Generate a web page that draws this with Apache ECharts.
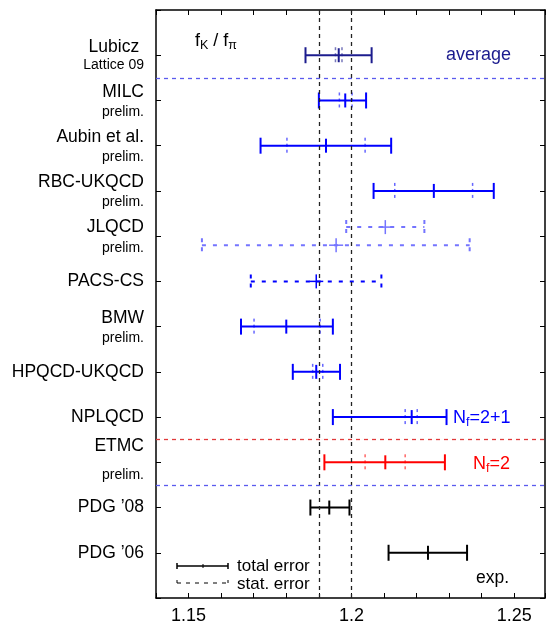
<!DOCTYPE html>
<html>
<head>
    <meta charset="utf-8">
    <title>fK / fpi</title>
    <script src="https://cdn.jsdelivr.net/npm/echarts@6.0.0/dist/echarts.min.js"></script>
    <style>
        html, body { margin: 0; padding: 0; background: #fff; }
        #main { width: 548px; height: 625px; }
    </style>
</head>
<body>
<div id="main"></div>
<script type="text/javascript">
    // row labels, top to bottom (row 1 .. 12)
    var names = ['Lubicz ', 'MILC', 'Aubin et al.', 'RBC-UKQCD', 'JLQCD', 'PACS-CS', 'BMW',
        'HPQCD-UKQCD', 'NPLQCD', 'ETMC', 'PDG \u201908', 'PDG \u201906'];
    var subNames = ['Lattice 09', 'prelim.', 'prelim.', 'prelim.', 'prelim.', '', 'prelim.',
        '', '', 'prelim.', '', ''];

    // results with total error (solid) and stat. error (dashed ticks)
    var solidRow = [1, 2, 3, 4, 7, 8, 9, 10, 11, 12];
    var solidCenter = [1.1961, 1.1981, 1.1922, 1.2253, 1.1800, 1.1892, 1.2185, 1.2104, 1.1932, 1.2235];
    var totalLow = [1.1859, 1.1900, 1.1721, 1.2068, 1.1661, 1.1820, 1.1943, 1.1917, 1.1874, 1.2114];
    var totalHigh = [1.2062, 1.2045, 1.2122, 1.2437, 1.1943, 1.1965, 1.2292, 1.2287, 1.1994, 1.2355];
    var statLow = [1.1951, 1.1963, 1.1802, 1.2133, 1.1701, 1.1881, 1.2165, 1.2042, null, null];
    var statHigh = [1.1971, 1.2002, 1.2042, 1.2372, 1.1904, 1.1912, 1.2202, 1.2165, null, null];
    var solidGroup = ['avg', 'nf3', 'nf3', 'nf3', 'nf3', 'nf3', 'nf3', 'nf2', 'exp', 'exp'];

    // results shown only with dashed bars (JLQCD x2, PACS-CS)
    var dashRow = [4.8, 5.2, 6];
    var dashCenter = [1.2104, 1.1953, 1.1892];
    var dashLow = [1.1984, 1.1541, 1.1691];
    var dashHigh = [1.2224, 1.2363, 1.2092];
    var dashGroup = ['faint', 'faint', 'nf3'];

    // PDG '08 band and group separators
    var bandEdges = [1.1874, 1.1994];
    var sepRows = [1.5, 9.5, 10.5];
    var sepGroup = ['nf3', 'nf2', 'nf3'];

    var colors = {avg: '#1c1c8e', nf3: '#0000ff', nf2: '#ff0000', exp: '#000000', faint: '#7474ff'};
    var sepColors = {nf3: '#5a5aee', nf2: '#e03a3a'};
    var FONT = 'Liberation Sans, Arial, sans-serif';

    var solidData = solidRow.map(function (r, i) {
        return [r, solidCenter[i], totalLow[i], totalHigh[i]];
    });
    var dashData = dashRow.map(function (r, i) {
        return [r, dashCenter[i], dashLow[i], dashHigh[i]];
    });

    function vline(x, y, h, style) {
        return {type: 'line', shape: {x1: x, y1: y - h, x2: x, y2: y + h}, style: style};
    }

    function renderSolid(params, api) {
        var i = params.dataIndex;
        var y = api.value(0);
        var col = colors[solidGroup[i]];
        var pc = api.coord([api.value(1), y]);
        var pl = api.coord([api.value(2), y]);
        var ph = api.coord([api.value(3), y]);
        var st = {stroke: col, lineWidth: 2, fill: null};
        var kids = [
            {type: 'line', shape: {x1: pl[0], y1: pl[1], x2: ph[0], y2: ph[1]}, style: st},
            vline(pl[0], pl[1], 8, st),
            vline(ph[0], ph[1], 8, st),
            vline(pc[0], pc[1], 7, st)
        ];
        if (statLow[i] != null) {
            var ds = {stroke: col, lineWidth: 1.5, lineDash: [3, 3], opacity: 0.6};
            var a = api.coord([statLow[i], y]);
            var b = api.coord([statHigh[i], y]);
            kids.push(vline(a[0], a[1], 8, ds));
            kids.push(vline(b[0], b[1], 8, ds));
        }
        return {type: 'group', children: kids};
    }

    function renderDash(params, api) {
        var i = params.dataIndex;
        var y = api.value(0);
        var col = colors[dashGroup[i]];
        var pc = api.coord([api.value(1), y]);
        var pl = api.coord([api.value(2), y]);
        var ph = api.coord([api.value(3), y]);
        var ds = {stroke: col, lineWidth: 2, lineDash: [4, 7]};
        var cs = {stroke: col, lineWidth: 2, lineDash: [4, 5]};
        return {
            type: 'group', children: [
                {type: 'line', shape: {x1: pl[0], y1: pl[1], x2: ph[0], y2: ph[1]}, style: ds},
                vline(pl[0], pl[1], 7, cs),
                vline(ph[0], ph[1], 7, cs),
                vline(pc[0], pc[1], 7, {stroke: col, lineWidth: 1.5}),
                {type: 'line', shape: {x1: pc[0] - 7, y1: pc[1], x2: pc[0] + 7, y2: pc[1]},
                    style: {stroke: col, lineWidth: 1.5}}
            ]
        };
    }

    var richLabel = {
        a: {fontSize: 17.5, lineHeight: 23, fontFamily: FONT, color: '#000'},
        b: {fontSize: 14, lineHeight: 17, fontFamily: FONT, color: '#000'},
        a1: {fontSize: 17.5, lineHeight: 20, fontFamily: FONT, color: '#000'},
        a2: {fontSize: 17.5, lineHeight: 26, fontFamily: FONT, color: '#000'},
        b2: {fontSize: 14, lineHeight: 32, fontFamily: FONT, color: '#000'}
    };

    // text with subscripts: parts alternate normal / subscript, laid out left to right
    var measureCtx = document.createElement('canvas').getContext('2d');
    function subText(x, y, parts, color) {
        var out = [];
        parts.forEach(function (p, k) {
            var sub = k % 2 === 1;
            var font = (sub ? '12.5px ' : '18px ') + FONT;
            out.push({
                type: 'text', x: x, y: sub ? y + 5 : y,
                style: {text: p, font: font, fill: color, verticalAlign: 'middle'}
            });
            measureCtx.font = font;
            x += measureCtx.measureText(p).width;
        });
        return out;
    }

    var myChart = echarts.init(document.getElementById('main'));

    var boxLine = {show: true, onZero: false, lineStyle: {color: '#000', width: 1.5}};
    var xBase = {
        type: 'value', min: 1.14, max: 1.25943, interval: 0.01,
        axisLine: boxLine, splitLine: {show: false},
        axisTick: {show: true, inside: true, length: 5, lineStyle: {color: '#000', width: 1}}
    };

    var graphics = [].concat(
        subText(195, 41, ['f', 'K', ' / f', '\u03c0'], '#000'),
        subText(453, 418, ['N', 'f', '=2+1'], colors.nf3),
        subText(473, 464, ['N', 'f', '=2'], colors.nf2),
        [
            {
                type: 'text', x: 446, y: 55,
                style: {text: 'average', font: '18px ' + FONT, fill: colors.avg, verticalAlign: 'middle'}
            },
            {
                type: 'text', x: 476, y: 578,
                style: {text: 'exp.', font: '17.5px ' + FONT, fill: '#000', verticalAlign: 'middle'}
            },
            // legend
            {type: 'line', shape: {x1: 177, y1: 566, x2: 228, y2: 566}, style: {stroke: '#000', lineWidth: 1.5}},
            {type: 'line', shape: {x1: 177, y1: 563, x2: 177, y2: 569}, style: {stroke: '#000', lineWidth: 1.5}},
            {type: 'line', shape: {x1: 228, y1: 563, x2: 228, y2: 569}, style: {stroke: '#000', lineWidth: 1.5}},
            {type: 'line', shape: {x1: 203, y1: 564, x2: 203, y2: 568}, style: {stroke: '#000', lineWidth: 1}},
            {type: 'line', shape: {x1: 177, y1: 583, x2: 228, y2: 583}, style: {stroke: '#000', lineWidth: 1, lineDash: [4, 5]}},
            {type: 'line', shape: {x1: 177, y1: 580, x2: 177, y2: 583}, style: {stroke: '#000', lineWidth: 1}},
            {type: 'line', shape: {x1: 228, y1: 580, x2: 228, y2: 583}, style: {stroke: '#000', lineWidth: 1}},
            {
                type: 'text', x: 237, y: 566,
                style: {text: 'total error', font: '17px ' + FONT, fill: '#000', verticalAlign: 'middle'}
            },
            {
                type: 'text', x: 237, y: 584,
                style: {text: 'stat. error', font: '17px ' + FONT, fill: '#000', verticalAlign: 'middle'}
            }
        ]
    );

    var option = {
        animation: false,
        backgroundColor: '#fff',
        grid: {left: 156, right: 1, top: 10, bottom: 26},
        xAxis: [
            Object.assign({}, xBase, {
                position: 'bottom',
                axisLabel: {
                    show: true, margin: 9, fontSize: 18, fontFamily: FONT, color: '#000', interval: 0,
                    formatter: function (v) {
                        var k = Math.round(v * 100);
                        return (k % 5 === 0) ? String(k / 100) : '';
                    }
                }
            }),
            Object.assign({}, xBase, {position: 'top', axisLabel: {show: false}})
        ],
        yAxis: [
            {
                type: 'value', min: 0, max: 13, interval: 1, inverse: true, position: 'left',
                axisLine: boxLine, splitLine: {show: false},
                axisTick: {show: true, inside: true, length: 5, lineStyle: {color: '#000', width: 1}},
                axisLabel: {
                    show: true, margin: 12, interval: 0, rich: richLabel,
                    formatter: function (v) {
                        var i = Math.round(v) - 1;
                        if (i < 0 || i >= names.length) return '';
                        if (!subNames[i]) return '{a|' + names[i] + '}';
                        if (names[i] === 'Lubicz ') return '{a1|' + names[i] + '}\n{b|' + subNames[i] + '}';
                        if (names[i] === 'ETMC') return '{a2|' + names[i] + '}\n{b2|' + subNames[i] + '}';
                        return '{a|' + names[i] + '}\n{b|' + subNames[i] + '}';
                    }
                }
            },
            {
                type: 'value', min: 0, max: 13, interval: 1, inverse: true, position: 'right',
                axisLine: boxLine, splitLine: {show: false}, axisLabel: {show: false},
                axisTick: {show: true, inside: true, length: 5, lineStyle: {color: '#000', width: 1}}
            }
        ],
        series: [
            {
                type: 'custom', name: 'lines', silent: true, data: [],
                markLine: {
                    silent: true, symbol: 'none', label: {show: false},
                    data: bandEdges.map(function (x) {
                        return {xAxis: x, lineStyle: {color: '#222', width: 1.3, type: [4, 4]}};
                    }).concat(sepRows.map(function (r, i) {
                        return {yAxis: r, lineStyle: {color: sepColors[sepGroup[i]], width: 1.3, type: [4, 4]}};
                    }))
                },
                renderItem: function () { return null; }
            },
            {
                type: 'custom', name: 'dashed', silent: true,
                encode: {x: [1, 2, 3], y: 0},
                data: dashData, renderItem: renderDash
            },
            {
                type: 'custom', name: 'solid', silent: true,
                encode: {x: [1, 2, 3], y: 0},
                data: solidData, renderItem: renderSolid
            }
        ],
        graphic: graphics
    };

    myChart.setOption(option);
</script>
</body>
</html>
